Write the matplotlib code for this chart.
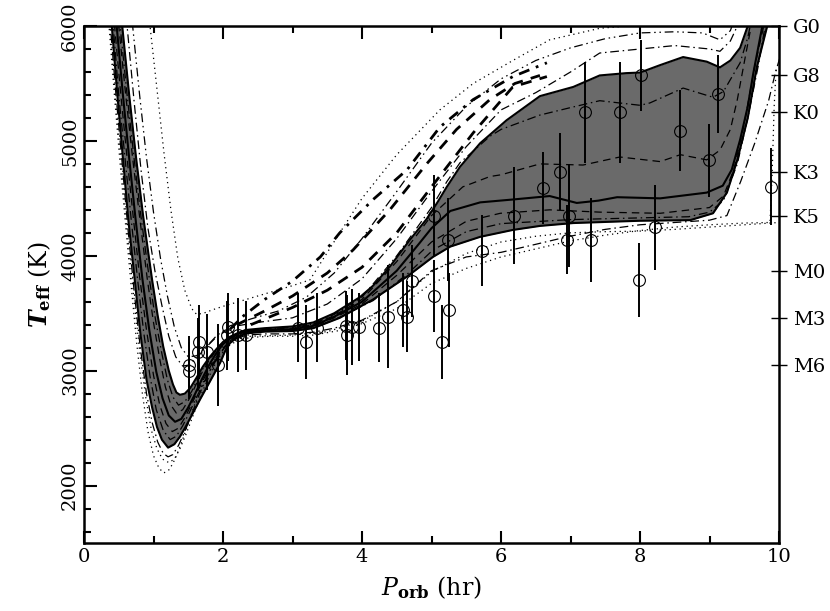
import matplotlib
matplotlib.use("Agg")
import matplotlib.pyplot as plt
import numpy as np

plt.rcParams['font.family'] = ['DejaVu Serif']
plt.rcParams['mathtext.fontset'] = 'dejavuserif'

# observed donors: period (hr), Teff (K), error (K)
p_obs = [1.51, 1.51, 1.66, 1.64, 1.77, 1.93, 2.07, 2.06, 2.22, 2.33,
         3.08, 3.19, 3.35, 3.77, 3.78, 3.86, 3.96, 4.24, 4.37, 4.59,
         4.65, 4.72, 5.04, 5.15, 5.25, 5.24, 5.04, 5.73, 6.19, 6.60,
         6.85, 6.98, 6.95, 7.30, 7.21, 7.71, 8.01, 7.99, 8.22, 8.58,
         8.99, 9.12, 9.88]
t_obs = [3050, 3000, 3250, 3160, 3165, 3050, 3380, 3310, 3310, 3310,
         3375, 3250, 3375, 3390, 3310, 3380, 3380, 3375, 3470, 3530,
         3470, 3780, 3650, 3250, 3530, 4140, 4350, 4045, 4350, 4590,
         4730, 4350, 4140, 4140, 5250, 5250, 5570, 3790, 4250, 5090,
         4830, 5410, 4600]
t_err = [250, 250, 320, 300, 330, 360, 300, 300, 320, 300,
         300, 320, 300, 300, 350, 330, 300, 300, 450, 320,
         310, 310, 310, 320, 320, 360, 350, 310, 425, 310,
         335, 450, 300, 365, 440, 440, 310, 320, 370, 350,
         320, 340, 335]

# band edges (solid)
up_p = [0.50, 0.55, 0.65, 0.75, 0.85, 0.98, 1.06, 1.14, 1.22, 1.28, 1.33, 1.38, 1.45, 1.53, 1.62,
        1.71, 1.81, 1.91, 2.00, 2.10, 2.22, 2.34, 2.6, 3.0, 3.3, 3.6, 3.97, 4.16, 4.4, 4.69,
        4.93, 5.08, 5.22, 5.41, 5.7, 6.08, 6.56, 7.04, 7.42, 7.8, 8.0, 8.29, 8.62, 8.96, 9.15,
        9.3, 9.44, 9.55, 9.62]
up_t = [6350, 6000, 5400, 4850, 4350, 3790, 3480, 3210, 3000, 2880, 2810, 2790, 2800, 2850, 2940,
        3035, 3120, 3190, 3250, 3295, 3330, 3355, 3370, 3385, 3420, 3500, 3640, 3740, 3905, 4140,
        4320, 4460, 4600, 4775, 4980, 5180, 5390, 5470, 5570, 5590, 5595, 5660, 5730, 5690, 5640,
        5700, 5810, 6000, 6200]
lo_p = [0.36, 0.40, 0.48, 0.56, 0.64, 0.73, 0.81, 0.90, 0.98, 1.05, 1.12, 1.21, 1.30, 1.38, 1.47,
        1.57, 1.67, 1.77, 1.87, 1.96, 2.03, 2.10, 2.20, 2.34, 2.6, 3.0, 3.3, 3.68, 4.16, 4.65,
        5.02, 5.27, 5.7, 6.17, 6.56, 7.04, 8.0, 8.72, 9.05, 9.25, 9.4, 9.55, 9.68, 9.83, 9.88]
lo_t = [6300, 6000, 5400, 4850, 4300, 3790, 3330, 2920, 2680, 2510, 2400, 2330, 2360, 2425, 2520,
        2635, 2750, 2860, 2970, 3070, 3170, 3240, 3290, 3325, 3340, 3345, 3370, 3460, 3620, 3820,
        3990, 4080, 4165, 4225, 4260, 4285, 4305, 4310, 4370, 4550, 4835, 5200, 5640, 6000, 6200]
mid_p = [0.43, 0.47, 0.56, 0.65, 0.74, 0.84, 0.94, 1.04, 1.13, 1.22, 1.31, 1.40, 1.50, 1.60, 1.70,
         1.80, 1.90, 2.0, 2.1, 2.22, 2.34, 2.6, 3.0, 3.3, 3.6, 4.0, 4.5, 4.8, 5.0, 5.27, 5.7,
         6.17, 6.7, 7.09, 7.4, 7.67, 8.29, 8.96, 9.19, 9.32, 9.44, 9.55, 9.63, 9.76, 9.8]
mid_t = [6300, 6000, 5400, 4850, 4330, 3800, 3350, 2990, 2760, 2610, 2555, 2580, 2680, 2800, 2930,
         3050, 3150, 3230, 3280, 3320, 3340, 3355, 3360, 3390, 3470, 3600, 3870, 4090, 4240, 4390, 4465,
         4490, 4520, 4460, 4480, 4510, 4500, 4550, 4610, 4750, 5010, 5300, 5590, 6000, 6200]

# other tracks inside the band
ddtop_p = [0.48, 0.52, 0.62, 0.72, 0.82, 0.94, 1.03, 1.12, 1.20, 1.28, 1.36, 1.45, 1.55, 1.65, 1.75,
           1.85, 1.95, 2.1, 2.34, 2.6, 3.0, 3.3, 3.6, 4.0, 4.5, 5.0, 5.22, 5.41, 5.84, 6.0, 6.56,
           7.0, 7.42, 8.0, 8.14, 8.62, 9.05, 9.2, 9.44, 9.55, 9.62, 9.66]
ddtop_t = [6300, 6000, 5400, 4850, 4340, 3800, 3440, 3150, 2920, 2770, 2700, 2730, 2820, 2950, 3060,
           3150, 3220, 3290, 3350, 3365, 3375, 3405, 3490, 3640, 4000, 4420, 4645, 4810, 5040, 5100, 5225,
           5290, 5350, 5310, 5330, 5460, 5380, 5430, 5680, 5900, 6100, 6300]
dashin_p = [0.46, 0.50, 0.60, 0.70, 0.80, 0.91, 1.0, 1.09, 1.17, 1.25, 1.33, 1.42, 1.52, 1.62, 1.72,
            1.82, 1.92, 2.05, 2.2, 2.34, 2.6, 3.0, 3.3, 3.6, 4.0, 4.5, 5.0, 5.45, 5.84, 6.0, 6.56,
            7.18, 7.71, 8.29, 8.58, 8.96, 9.15, 9.3, 9.4, 9.52, 9.6, 9.65]
dashin_t = [6300, 6000, 5400, 4850, 4340, 3800, 3420, 3100, 2860, 2700, 2630, 2660, 2760, 2890, 3010,
            3110, 3190, 3260, 3320, 3345, 3360, 3370, 3400, 3480, 3620, 3950, 4350, 4600, 4690, 4705, 4800,
            4790, 4860, 4820, 4880, 4835, 4920, 5100, 5360, 5750, 6000, 6300]
dashlo_p = [0.40, 0.44, 0.53, 0.62, 0.71, 0.80, 0.90, 1.0, 1.09, 1.18, 1.27, 1.36, 1.45, 1.55, 1.65,
            1.75, 1.85, 1.95, 2.05, 2.2, 2.34, 2.6, 3.0, 3.3, 3.6, 4.0, 4.5, 5.0, 5.5, 5.99, 6.7,
            7.42, 8.29, 8.72, 9.0, 9.2, 9.35, 9.5, 9.65, 9.78, 9.83]
dashlo_t = [6300, 6000, 5400, 4850, 4330, 3820, 3350, 2960, 2700, 2540, 2470, 2500, 2590, 2710, 2840,
            2960, 3070, 3160, 3230, 3300, 3335, 3350, 3355, 3385, 3460, 3580, 3830, 4120, 4300, 4370, 4400,
            4380, 4370, 4400, 4420, 4520, 4750, 5150, 5650, 6000, 6300]
ddlo_p = [0.38, 0.42, 0.50, 0.59, 0.68, 0.77, 0.86, 0.95, 1.04, 1.14, 1.24, 1.33, 1.42, 1.52, 1.62,
          1.72, 1.82, 1.92, 2.02, 2.15, 2.34, 2.6, 3.0, 3.3, 3.68, 4.16, 4.65, 5.02, 5.5, 6.0, 7.0,
          8.0, 8.7, 9.0, 9.2, 9.4, 9.55, 9.7, 9.8, 9.85]
ddlo_t = [6300, 6000, 5400, 4850, 4310, 3800, 3330, 2950, 2660, 2480, 2400, 2430, 2520, 2640, 2770,
          2890, 3010, 3110, 3200, 3280, 3330, 3345, 3350, 3375, 3465, 3610, 3840, 4050, 4210, 4280, 4315,
          4330, 4340, 4380, 4480, 4800, 5200, 5650, 6000, 6300]

# tracks below the band
ddb_p = [0.34, 0.38, 0.46, 0.55, 0.63, 0.72, 0.81, 0.90, 0.98, 1.06, 1.14, 1.21, 1.28, 1.36, 1.45,
         1.55, 1.65, 1.75, 1.85, 1.95, 2.05, 2.2, 2.34, 2.6, 3.0, 3.3, 3.6, 4.0, 4.5, 5.0, 5.5,
         6.0, 6.5, 6.95, 7.5, 8.0, 8.5, 9.0, 9.25, 9.45, 9.65, 9.85, 9.95, 10.05]
ddb_t = [6300, 6000, 5400, 4800, 4250, 3700, 3200, 2800, 2550, 2380, 2280, 2250, 2270, 2350, 2470,
         2620, 2780, 2920, 3050, 3150, 3220, 3280, 3310, 3320, 3320, 3335, 3370, 3440, 3600, 3870, 3990,
         4030, 4100, 4165, 4230, 4270, 4290, 4310, 4350, 4650, 4980, 5350, 5600, 5800]
dotb1_p = [0.33, 0.37, 0.45, 0.54, 0.62, 0.71, 0.80, 0.89, 0.97, 1.05, 1.13, 1.22, 1.30, 1.38, 1.47,
           1.57, 1.67, 1.77, 1.87, 1.97, 2.07, 2.2, 2.4, 2.7, 3.0, 3.3, 3.68, 4.0, 4.5, 5.0, 5.5,
           6.0, 6.5, 7.0, 7.5, 8.0, 8.5, 9.0, 9.5, 9.87, 9.90, 9.93, 9.96]
dotb1_t = [6300, 6000, 5400, 4780, 4230, 3680, 3170, 2760, 2480, 2320, 2230, 2200, 2230, 2320, 2450,
           2610, 2770, 2910, 3040, 3140, 3210, 3260, 3290, 3300, 3300, 3310, 3350, 3410, 3540, 3760, 3890,
           3990, 4060, 4130, 4180, 4220, 4250, 4270, 4285, 4290, 4700, 5300, 5650]
dotb2_p = [0.32, 0.36, 0.44, 0.52, 0.60, 0.68, 0.76, 0.84, 0.92, 1.0, 1.08, 1.15, 1.23, 1.31, 1.40,
           1.50, 1.60, 1.70, 1.80, 1.90, 2.0, 2.15, 2.4, 3.0, 3.5, 4.0, 4.5, 5.0, 5.5, 6.0, 6.5,
           7.0, 7.5, 8.0, 8.5, 9.0, 9.5, 10.0]
dotb2_t = [6300, 6000, 5380, 4800, 4260, 3730, 3230, 2800, 2470, 2260, 2150, 2110, 2140, 2230, 2370,
           2540, 2720, 2880, 3020, 3130, 3210, 3270, 3300, 3310, 3340, 3430, 3600, 3860, 4020, 4120, 4170,
           4200, 4210, 4215, 4230, 4250, 4270, 4290]

# tracks above the band
dda1_p = [0.58, 0.62, 0.72, 0.82, 0.92, 1.02, 1.12, 1.22, 1.32, 1.42, 1.52, 1.62, 1.75, 1.9, 2.05,
          2.2, 2.5, 3.0, 3.5, 4.0, 4.5, 5.0, 5.5, 6.0, 6.5, 7.0, 7.42, 8.0, 8.5, 9.0, 9.15, 9.3,
          9.4, 9.45]
dda1_t = [6300, 6000, 5350, 4750, 4240, 3870, 3570, 3300, 3120, 3040, 3050, 3110, 3200, 3290, 3350,
          3390, 3420, 3460, 3580, 3800, 4150, 4560, 4950, 5270, 5420, 5600, 5765, 5800, 5830, 5800, 5780,
          5870, 6000, 6200]
dda2_p = [0.66, 0.70, 0.80, 0.90, 1.0, 1.10, 1.20, 1.30, 1.40, 1.50, 1.62, 1.75, 1.9, 2.1, 2.4,
          2.8, 3.2, 3.6, 4.0, 4.5, 5.0, 5.5, 6.0, 6.5, 7.0, 7.5, 8.0, 8.5, 8.9, 9.15, 9.3, 9.38]
dda2_t = [6300, 6000, 5400, 4850, 4380, 3980, 3650, 3380, 3200, 3120, 3130, 3200, 3300, 3390, 3450,
          3520, 3640, 3850, 4150, 4560, 4980, 5300, 5540, 5700, 5810, 5890, 5940, 5950, 5940, 5880, 5960,
          6100]
dota_p = [0.92, 0.95, 1.05, 1.15, 1.25, 1.35, 1.45, 1.55, 1.62, 1.72, 1.85, 2.0, 2.5, 3.0, 3.25,
          3.68, 4.0, 4.5, 5.12, 5.6, 6.17, 6.7, 7.42, 8.0, 8.6]
dota_t = [6200, 6000, 5450, 4900, 4400, 3980, 3700, 3540, 3490, 3500, 3530, 3560, 3650, 3740, 3790,
          4200, 4500, 4880, 5270, 5500, 5700, 5880, 5980, 6010, 6040]

# thick tracks, P < 7 hr only
thdd_p = [2.1, 2.3, 2.6, 3.0, 3.4, 3.68, 4.16, 4.65, 5.12, 5.6, 6.17, 6.66]
thdd_t = [3360, 3480, 3620, 3780, 3990, 4200, 4490, 4750, 5120, 5360, 5560, 5680]
thd1_p = [2.2, 2.6, 3.0, 3.5, 3.87, 4.4, 4.93, 5.36, 5.84, 6.2, 6.56]
thd1_t = [3400, 3520, 3650, 3850, 4050, 4400, 4800, 5100, 5360, 5500, 5570]
thd2_p = [2.4, 3.0, 3.5, 4.0, 4.5, 5.0, 5.6, 6.17, 6.66]
thd2_t = [3400, 3550, 3700, 3900, 4200, 4600, 5070, 5470, 5560]

# spectral types on the right axis
sp_labels = ['G0', 'G8', 'K0', 'K3', 'K5', 'M0', 'M3', 'M6']
sp_teff = [6000, 5570, 5250, 4730, 4350, 3870, 3460, 3050]

DASH = (0, (6, 4))
DDOT = (0, (7, 3, 1.2, 3))
DDD = (0, (7, 3, 1.2, 3, 1.2, 3))
DOT = (0, (1, 3))

fig = plt.figure(figsize=(8.3, 6.11), dpi=100)
ax = fig.add_axes([0.1012, 0.1113, 0.8374, 0.8461])

# grey band between the outer solid tracks
grid_p = sorted(set(up_p) | set(lo_p))
band_hi = np.interp(grid_p, up_p, up_t, right=6500, left=6500)
band_lo = np.interp(grid_p, lo_p, lo_t, right=6500, left=6500)
ax.fill_between(grid_p, band_lo, band_hi, color='#6a6a6a', lw=0, zorder=1)

tracks = [
    (up_p, up_t, '-', 1.5), (lo_p, lo_t, '-', 1.5), (mid_p, mid_t, '-', 1.5),
    (ddtop_p, ddtop_t, DDOT, 0.9), (dashin_p, dashin_t, DASH, 0.9),
    (dashlo_p, dashlo_t, DASH, 0.9), (ddlo_p, ddlo_t, DDOT, 0.9),
    (ddb_p, ddb_t, DDOT, 0.9), (dotb1_p, dotb1_t, DOT, 0.9), (dotb2_p, dotb2_t, DOT, 0.9),
    (dda1_p, dda1_t, DDOT, 0.9), (dda2_p, dda2_t, DDD, 0.9), (dota_p, dota_t, DOT, 0.9),
    (thdd_p, thdd_t, (0, (4, 2.5, 1, 2.5)), 2.0), (thd1_p, thd1_t, (0, (4, 3)), 2.0),
    (thd2_p, thd2_t, (0, (4, 3)), 2.0),
]
for pp, tt, ls, lw in tracks:
    ax.plot(pp, tt, color='black', ls=ls, lw=lw, zorder=2)

ax.errorbar(p_obs, t_obs, yerr=t_err, fmt='none', ecolor='black', elinewidth=1.4, capsize=0, zorder=3)
ax.plot(p_obs, t_obs, 'o', ms=8.5, mfc='none', mec='black', mew=0.8, zorder=4)

ax.set_xlim(0, 10)
ax.set_ylim(1500, 6000)
ax.set_xticks([0, 2, 4, 6, 8, 10])
ax.set_xticks(range(0, 11), minor=True)
ax.set_yticks([2000, 3000, 4000, 5000, 6000])
ax.set_yticks(range(1600, 6001, 200), minor=True)
ax.tick_params(which='both', direction='in', top=True, right=False, width=1.5, labelsize=14)
ax.tick_params(which='major', length=9)
ax.tick_params(which='minor', length=5)
ax.tick_params(axis='y', labelrotation=90)
for lab in ax.get_yticklabels():
    lab.set_va('center')
for s in ax.spines.values():
    s.set_linewidth(1.8)

ax.set_xlabel(r'$P_{\mathbf{orb}}$ (hr)', fontsize=17, labelpad=6)
ax.set_ylabel(r'$\mathbfit{T}_{\mathbf{eff}}$ (K)', fontsize=17, labelpad=6)

ax2 = ax.twinx()
ax2.set_ylim(ax.get_ylim())
ax2.set_yticks(sp_teff)
ax2.set_yticklabels(sp_labels)
ax2.tick_params(axis='y', direction='inout', length=12, width=1, labelsize=14, pad=4)
for s in ax2.spines.values():
    s.set_visible(False)

fig.savefig('out.png', dpi=100)
